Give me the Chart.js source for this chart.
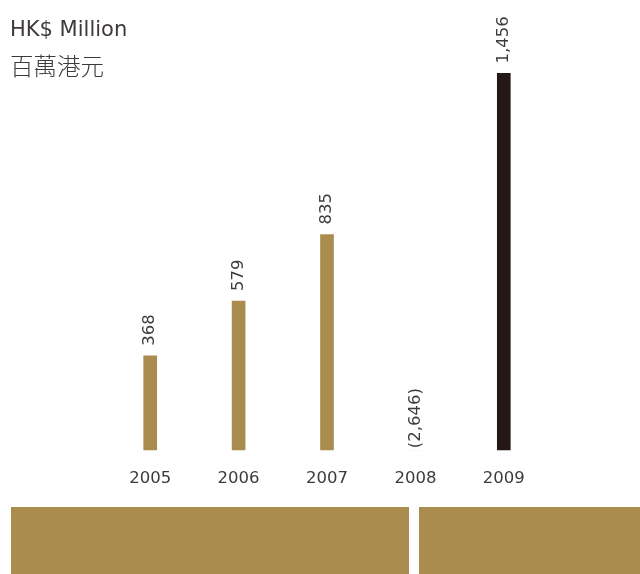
<!DOCTYPE html>
<html>
<head>
<meta charset="utf-8">
<script src="https://cdn.jsdelivr.net/npm/chart.js@4.4.0/dist/chart.umd.min.js"></script>
<style>
  html, body { margin: 0; padding: 0; background: #ffffff; }
  #wrap { position: relative; width: 640px; height: 574px; overflow: hidden; }
  #chartBox { position: absolute; left: 0; top: 0; width: 640px; height: 574px; }
  .t1 { position: absolute; left: 10px; top: 19px; font-family: "DejaVu Sans", sans-serif; font-size: 21px; color: #3e3a39; line-height: 1; white-space: nowrap; }
  .t2 { position: absolute; left: 10px; top: 54px; font-family: "Noto Sans CJK TC", "Noto Sans CJK SC", sans-serif; font-size: 23.5px; color: #3e3a39; line-height: 1; white-space: nowrap; font-weight: 300; }
  .blk { position: absolute; top: 507px; height: 67px; background: #ab8c4f; }
</style>
</head>
<body>
<div id="wrap">
  <div id="chartBox"><canvas id="c"></canvas></div>
  <div class="t1">HK$ Million</div>
  <div class="t2">百萬港元</div>
  <div class="blk" style="left:11px; width:398px;"></div>
  <div class="blk" style="left:419px; width:221px;"></div>
</div>
<script>
const categories = ["2005", "2006", "2007", "2008", "2009"];
const values = [368, 579, 835, -2646, 1456];
const barColors = ["#ab8c4f", "#ab8c4f", "#ab8c4f", "#ab8c4f", "#231815"];

function fmt(v) {
  const s = Math.abs(v).toLocaleString("en-US");
  return v < 0 ? "(" + s + ")" : s;
}

const valueLabels = {
  id: "valueLabels",
  afterDatasetsDraw(chart) {
    const ctx = chart.ctx;
    const meta = chart.getDatasetMeta(0);
    const yScale = chart.scales.y;
    const zero = yScale.getPixelForValue(0);
    ctx.save();
    ctx.font = "16.5px 'DejaVu Sans', sans-serif";
    ctx.fillStyle = "#3e3a39";
    ctx.textAlign = "left";
    ctx.textBaseline = "middle";
    meta.data.forEach((bar, i) => {
      const v = values[i];
      const y = v >= 0 ? bar.y - 10 : zero - 3;
      ctx.save();
      ctx.translate(bar.x, y);
      ctx.rotate(-Math.PI / 2);
      ctx.fillText(fmt(v), 0, 0);
      ctx.restore();
    });
    ctx.restore();
  }
};

new Chart(document.getElementById("c"), {
  type: "bar",
  data: {
    labels: categories,
    datasets: [{
      data: values,
      backgroundColor: barColors,
      barThickness: 13,
      borderWidth: 0,
      clip: { left: 0, top: 0, right: 0, bottom: -1 }
    }]
  },
  options: {
    responsive: true,
    maintainAspectRatio: false,
    animation: false,
    layout: { padding: { left: 106, right: 92, top: 62, bottom: 67 } },
    plugins: { legend: { display: false }, tooltip: { enabled: false }, title: { display: false } },
    scales: {
      x: {
        grid: { display: false, drawTicks: false },
        border: { display: false },
        ticks: {
          padding: 18,
          color: "#3e3a39",
          font: { family: "'DejaVu Sans', sans-serif", size: 16.5 }
        }
      },
      y: {
        display: false,
        min: 0,
        max: 1500
      }
    }
  },
  plugins: [valueLabels]
});
</script>
</body>
</html>
